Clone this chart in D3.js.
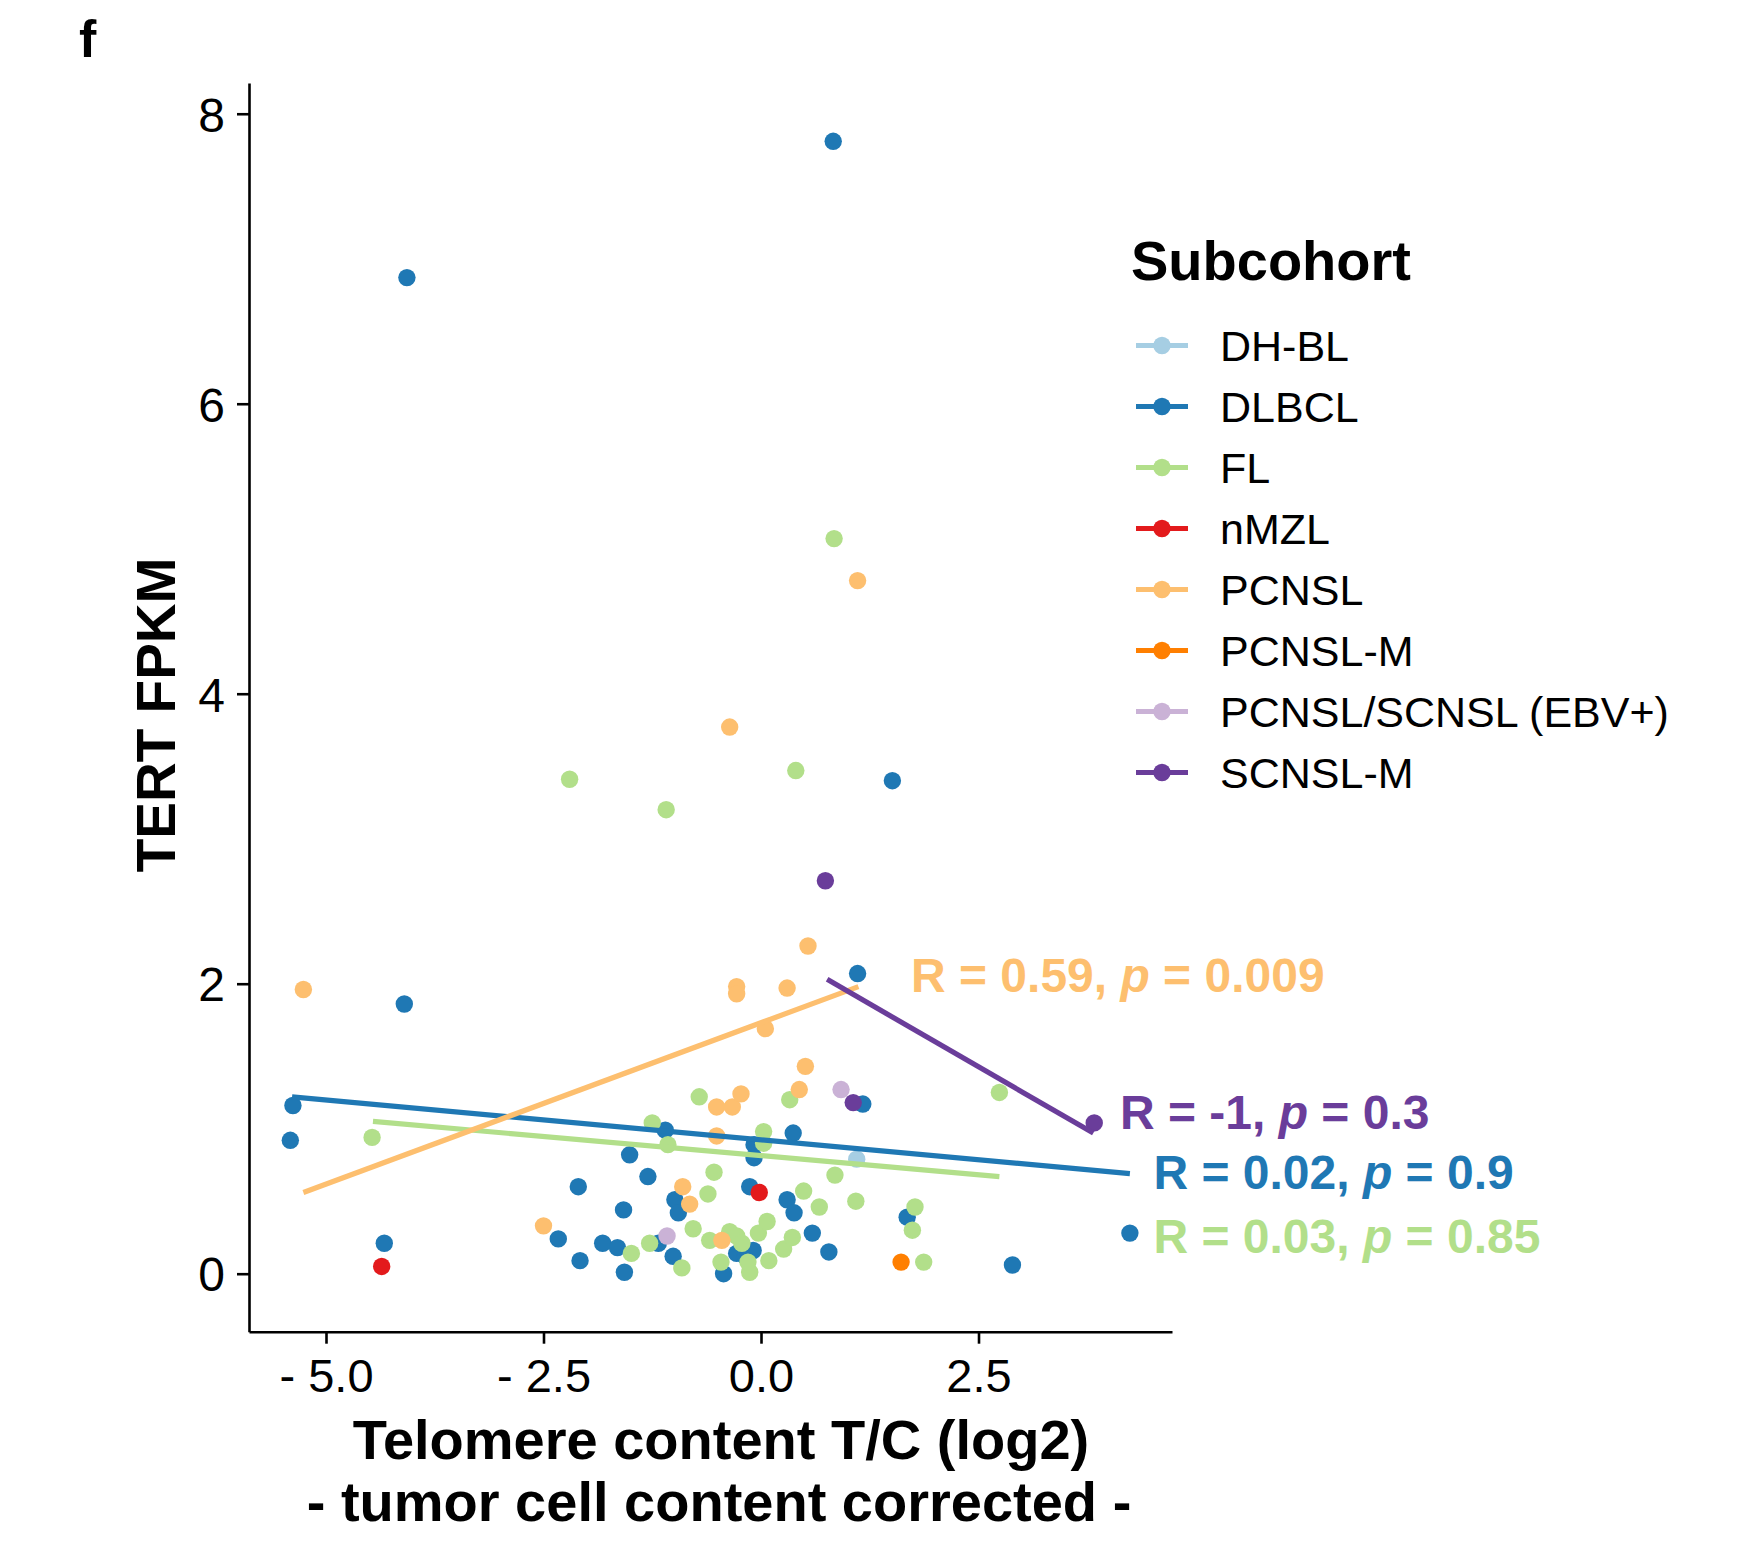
<!DOCTYPE html>
<html>
<head>
<meta charset="utf-8">
<script src="https://cdn.jsdelivr.net/npm/d3@7"></script>
<style>
  body { margin: 0; background: #fff; }
  svg { display: block; font-family: "Liberation Sans", Arial, Helvetica, sans-serif; }
</style>
</head>
<body>
<div id="chart"></div>
<script>
const subcohorts = ["DH-BL", "DLBCL", "FL", "nMZL", "PCNSL", "PCNSL-M", "PCNSL/SCNSL (EBV+)", "SCNSL-M"];
const palette = ["#a6cee3", "#1f78b4", "#b2df8a", "#e31a1c", "#fdbf6f", "#ff7f00", "#cab2d6", "#6a3d9a"];

// points: [telomere content T/C (log2), TERT FPKM]
const dhbl = [[1.10, 0.79]];
const dlbcl = [
    [0.83, 7.81], [-4.07, 6.87], [1.51, 3.40], [1.11, 2.07], [-4.10, 1.86], [-5.38, 1.16],
    [-5.41, 0.92], [-4.33, 0.21], [4.24, 0.28], [2.89, 0.06], [1.17, 1.17], [1.68, 0.39],
    [0.78, 0.15], [0.59, 0.28], [0.37, 0.97], [0.30, 0.51], [0.38, 0.42], [-1.10, 0.99],
    [-1.51, 0.82], [-1.30, 0.67], [-2.10, 0.60], [-1.58, 0.44], [-0.99, 0.51], [-0.95, 0.42],
    [-0.13, 0.60], [-0.08, 0.89], [-0.08, 0.80], [-2.33, 0.24], [-2.08, 0.09], [-1.82, 0.21],
    [-1.65, 0.18], [-1.57, 0.01], [-1.18, 0.21], [-1.01, 0.12], [-0.43, 0.00], [-0.28, 0.14],
    [-0.18, 0.12], [-0.09, 0.16]
];
const fl = [
    [0.84, 5.07], [-2.20, 3.41], [0.40, 3.47], [-1.09, 3.20], [2.74, 1.25], [-4.47, 0.94],
    [-0.71, 1.22], [-1.25, 1.04], [-1.07, 0.89], [0.03, 0.98], [0.03, 0.90], [0.33, 1.20],
    [-0.54, 0.70], [-0.61, 0.55], [-0.78, 0.31], [-0.59, 0.23], [-0.36, 0.29], [-0.28, 0.26],
    [-0.22, 0.21], [-0.03, 0.28], [0.07, 0.36], [-0.46, 0.08], [-0.13, 0.01], [-0.15, 0.08],
    [0.09, 0.09], [0.26, 0.17], [0.36, 0.25], [0.49, 0.57], [0.67, 0.46], [0.85, 0.68],
    [1.09, 0.50], [-1.49, 0.14], [-1.28, 0.21], [-0.91, 0.04], [1.77, 0.46], [1.74, 0.30],
    [1.87, 0.08]
];
const nmzl = [[-0.02, 0.56], [-4.36, 0.05]];
const pcnsl = [
    [-5.26, 1.96], [-0.36, 3.77], [1.11, 4.78], [0.54, 2.26], [-0.28, 1.98], [-0.28, 1.93],
    [0.30, 1.97], [0.05, 1.69], [0.51, 1.43], [0.44, 1.27], [-0.51, 1.15], [-0.33, 1.15],
    [-0.23, 1.24], [-0.51, 0.95], [-0.90, 0.60], [-0.82, 0.48], [-0.45, 0.23], [-2.50, 0.33]
];
const pcnslM = [[1.61, 0.08]];
const ebv = [[-1.08, 0.26], [0.92, 1.27]];
const scnslM = [[0.74, 2.71], [1.06, 1.18], [3.83, 1.04]];

// linear fits as drawn: [[x start, y start], [x end, y end]]
const fitDlbcl = [[-5.39, 1.22], [4.24, 0.69]];
const fitFl = [[-4.46, 1.05], [2.74, 0.67]];
const fitPcnsl = [[-5.26, 0.56], [1.12, 1.98]];
const fitScnslM = [[0.76, 2.03], [3.82, 0.97]];

const corR = ["0.59", "-1", "0.02", "0.03"];
const corP = ["0.009", "0.3", "0.9", "0.85"];

const xTicks = [-5, -2.5, 0, 2.5];
const xTickLabels = ["- 5.0", "- 2.5", "0.0", "2.5"];
const yTicks = [0, 2, 4, 6, 8];

class TelomereScatter {

    constructor(selectElement, config) {
        this.config = config;
        this.svg = d3.select(selectElement).append("svg")
            .attr("width", config.width)
            .attr("height", config.height);
        this.x = d3.scaleLinear().domain([-5.885, 4.724]).range([249, 1172]);
        this.y = d3.scaleLinear().domain([-0.4, 8.212]).range([1331.7, 83]);
        this.color = d3.scaleOrdinal().domain(subcohorts).range(palette);
    }

    draw() {
        this.drawAxes();
        this.drawPoints();
        this.drawFits();
        this.drawCorLabels();
        this.drawLegend();
    }

    drawAxes() {
        const xAxis = d3.axisBottom(this.x)
            .tickValues(xTicks)
            .tickFormat((d, i) => xTickLabels[i])
            .tickSize(12).tickPadding(14).tickSizeOuter(0);
        const yAxis = d3.axisLeft(this.y)
            .tickValues(yTicks)
            .tickFormat(d3.format("d"))
            .tickSize(12).tickPadding(12).tickSizeOuter(0);

        const gx = this.svg.append("g")
            .attr("transform", `translate(0,${this.y.range()[0]})`)
            .call(xAxis);
        const gy = this.svg.append("g")
            .attr("transform", `translate(${this.x.range()[0]},0)`)
            .call(yAxis);

        [gx, gy].forEach(g => {
            g.select(".domain").attr("stroke", "#000").attr("stroke-width", 2.6);
            g.selectAll(".tick line").attr("stroke", "#000").attr("stroke-width", 2.6);
            g.selectAll(".tick text")
                .attr("fill", "#000")
                .style("font-size", "47px")
                .style("font-family", "'Liberation Sans', Arial, sans-serif");
        });
        gx.selectAll(".tick text").attr("dy", null).attr("y", 60);
        gy.selectAll(".tick text").attr("dy", "0.36em").style("font-size", "48px");

        this.svg.append("text")
            .attr("x", 79).attr("y", 57)
            .style("font-size", "52px").style("font-weight", "bold")
            .text("f");

        const title = this.svg.append("text")
            .attr("text-anchor", "middle")
            .style("font-size", "56px").style("font-weight", "bold");
        title.append("tspan").attr("x", 721).attr("y", 1459).text("Telomere content T/C (log2)");
        title.append("tspan").attr("x", 719).attr("y", 1521).text("- tumor cell content corrected -");

        this.svg.append("text")
            .attr("transform", "translate(175,715) rotate(-90)")
            .attr("text-anchor", "middle")
            .style("font-size", "55px").style("font-weight", "bold")
            .text("TERT FPKM");
    }

    drawPoints() {
        const groups = [
            ["DLBCL", dlbcl], ["FL", fl], ["PCNSL", pcnsl], ["DH-BL", dhbl],
            ["nMZL", nmzl], ["PCNSL-M", pcnslM], ["PCNSL/SCNSL (EBV+)", ebv], ["SCNSL-M", scnslM]
        ];
        groups.forEach(([name, pts]) => {
            this.svg.append("g").selectAll("circle")
                .data(pts)
                .enter()
                .append("circle")
                .attr("cx", d => this.x(d[0]))
                .attr("cy", d => this.y(d[1]))
                .attr("r", this.config.pointRadius)
                .attr("fill", this.color(name));
        });
    }

    drawFits() {
        const fits = [["DLBCL", fitDlbcl], ["FL", fitFl], ["PCNSL", fitPcnsl], ["SCNSL-M", fitScnslM]];
        const line = d3.line().x(d => this.x(d[0])).y(d => this.y(d[1]));
        fits.forEach(([name, pts]) => {
            this.svg.append("path")
                .attr("d", line(pts))
                .attr("fill", "none")
                .attr("stroke", this.color(name))
                .attr("stroke-width", 5.2);
        });
    }

    drawCorLabels() {
        // label anchors (left edge, baseline) in data units
        const anchors = [
            ["PCNSL", 1.724, 1.943],
            ["SCNSL-M", 4.126, 0.997],
            ["DLBCL", 4.511, 0.583],
            ["FL", 4.511, 0.142]
        ];
        anchors.forEach(([name, ax, ay], i) => {
            const t = this.svg.append("text")
                .attr("x", this.x(ax)).attr("y", this.y(ay))
                .attr("fill", this.color(name))
                .style("font-size", "48px").style("font-weight", "bold");
            t.append("tspan").text(`R = ${corR[i]}, `);
            t.append("tspan").style("font-style", "italic").text("p");
            t.append("tspan").text(` = ${corP[i]}`);
        });
    }

    drawLegend() {
        const lg = this.svg.append("g");
        lg.append("text")
            .attr("x", 1131).attr("y", 280)
            .style("font-size", "56px").style("font-weight", "bold")
            .text("Subcohort");

        const items = lg.selectAll(".key")
            .data(subcohorts)
            .enter()
            .append("g")
            .attr("transform", (d, i) => `translate(0,${345.5 + i * 61})`);
        items.append("line")
            .attr("x1", 1136).attr("x2", 1188)
            .attr("stroke", d => this.color(d))
            .attr("stroke-width", 5.2);
        items.append("circle")
            .attr("cx", 1162).attr("r", this.config.pointRadius)
            .attr("fill", d => this.color(d));
        items.append("text")
            .attr("x", 1220).attr("y", 15.4)
            .style("font-size", "43px")
            .text(d => d);
    }
}

new TelomereScatter("#chart", { width: 1742, height: 1544, pointRadius: 8.7 }).draw();
</script>
</body>
</html>
